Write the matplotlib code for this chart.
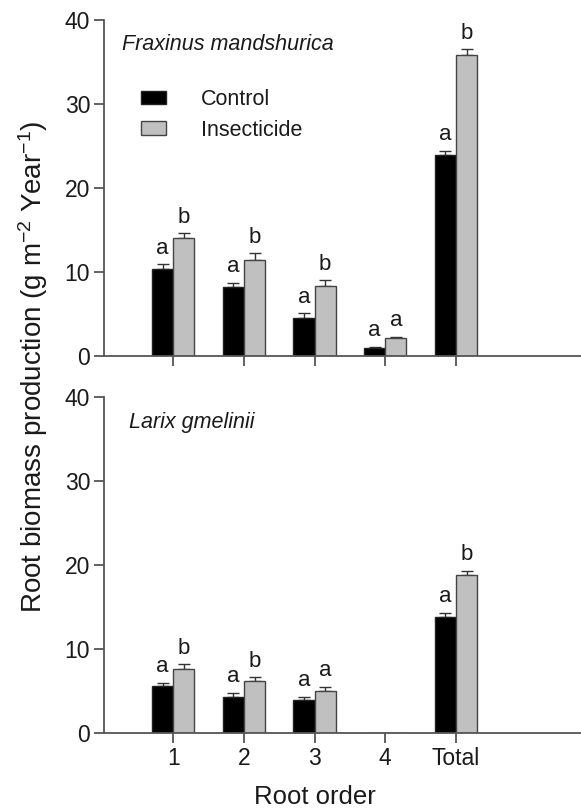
import numpy as np
import matplotlib.pyplot as plt

# data
orders = ["1", "2", "3", "4", "Total"]

fm_control = [10.4, 8.2, 4.5, 0.9, 23.9]
fm_control_se = [0.5, 0.5, 0.6, 0.2, 0.5]
fm_insect = [14.0, 11.4, 8.3, 2.1, 35.8]
fm_insect_se = [0.6, 0.8, 0.7, 0.2, 0.7]
fm_letters_c = ["a", "a", "a", "a", "a"]
fm_letters_i = ["b", "b", "b", "a", "b"]

lg_control = [5.6, 4.3, 3.9, 0, 13.8]
lg_control_se = [0.4, 0.5, 0.4, 0, 0.5]
lg_insect = [7.65, 6.2, 5.0, 0, 18.8]
lg_insect_se = [0.55, 0.45, 0.5, 0, 0.5]
lg_letters_c = ["a", "a", "a", "", "a"]
lg_letters_i = ["b", "b", "a", "", "b"]

plt.rcParams['font.family'] = 'Liberation Sans'
plt.rcParams['mathtext.fontset'] = 'custom'
plt.rcParams['mathtext.rm'] = 'Liberation Sans'
plt.rcParams['mathtext.it'] = 'Liberation Sans:italic'
txt = '#1a1a1a'
axc = '#555555'

fig = plt.figure(figsize=(5.81, 8.09), dpi=100)
ax1 = fig.add_axes([0.179, 0.560, 0.821, 0.4153])
ax2 = fig.add_axes([0.179, 0.0939, 0.821, 0.4153])

x = np.arange(1, len(orders) + 1)
w = 0.30


def draw(ax, ctrl, ctrl_se, ins, ins_se, let_c, let_i, show_labels):
    ctrl = np.array(ctrl)
    ins = np.array(ins)
    ctrl_se = np.array(ctrl_se)
    ins_se = np.array(ins_se)
    ax.bar(x - w / 2, ctrl, w, color='black', edgecolor='#222222',
           linewidth=1, label='Control', zorder=2)
    ax.bar(x + w / 2, ins, w, color='#c0c0c0', edgecolor='#444444',
           linewidth=1, label='Insecticide', zorder=2)
    mask = ctrl > 0
    ax.errorbar((x - w / 2)[mask], ctrl[mask], yerr=[np.zeros(mask.sum()), ctrl_se[mask]],
                fmt='none', ecolor='#333333', elinewidth=1, capsize=4.5, capthick=1, zorder=1)
    mask = ins > 0
    ax.errorbar((x + w / 2)[mask], ins[mask], yerr=[np.zeros(mask.sum()), ins_se[mask]],
                fmt='none', ecolor='#333333', elinewidth=1, capsize=4.5, capthick=1, zorder=1)
    for i in range(len(x)):
        if let_c[i]:
            ax.annotate(let_c[i], (x[i] - w / 2, ctrl[i] + ctrl_se[i]), xytext=(0, 4),
                        textcoords='offset points', ha='center', va='bottom',
                        fontsize=16, color=txt)
        if let_i[i]:
            ax.annotate(let_i[i], (x[i] + w / 2, ins[i] + ins_se[i]), xytext=(0, 4),
                        textcoords='offset points', ha='center', va='bottom',
                        fontsize=16, color=txt)
    ax.set_xlim(0.02, 6.77)
    ax.set_ylim(0, 40)
    ax.set_yticks([0, 10, 20, 30, 40])
    ax.set_xticks(x)
    if show_labels:
        ax.set_xticklabels(orders)
    else:
        ax.set_xticklabels([])
    for s in ['top', 'right']:
        ax.spines[s].set_visible(False)
    for s in ['left', 'bottom']:
        ax.spines[s].set_color(axc)
        ax.spines[s].set_linewidth(1.3)
    ax.tick_params(direction='out', length=7, width=1.3, color=axc,
                   labelsize=16.5, labelcolor=txt, pad=3)


draw(ax1, fm_control, fm_control_se, fm_insect, fm_insect_se, fm_letters_c, fm_letters_i, False)
draw(ax2, lg_control, lg_control_se, lg_insect, lg_insect_se, lg_letters_c, lg_letters_i, True)

ax1.text(0.038, 0.926, 'Fraxinus mandshurica', transform=ax1.transAxes,
         fontsize=15.5, style='italic', color=txt, va='center')
ax2.text(0.052, 0.923, 'Larix gmelinii', transform=ax2.transAxes,
         fontsize=15.5, style='italic', color=txt, va='center')

ax1.legend(loc='upper left', bbox_to_anchor=(0.06, 0.82), frameon=False, fontsize=15.5,
           handlelength=1.16, handleheight=0.6, handletextpad=1.6, labelspacing=0.45,
           labelcolor=txt, borderaxespad=0)

fig.text(315 / 581, 1 - 797 / 809, 'Root order', ha='center', va='center',
         fontsize=18.5, color=txt)
fig.text(33 / 581, 1 - 367 / 809, 'Root biomass production (g m$^{\\mathregular{-2}}$ Year$^{\\mathregular{-1}}$)',
         rotation=90, ha='center', va='center', fontsize=20, color=txt)

fig.savefig('out.png', dpi=100)
